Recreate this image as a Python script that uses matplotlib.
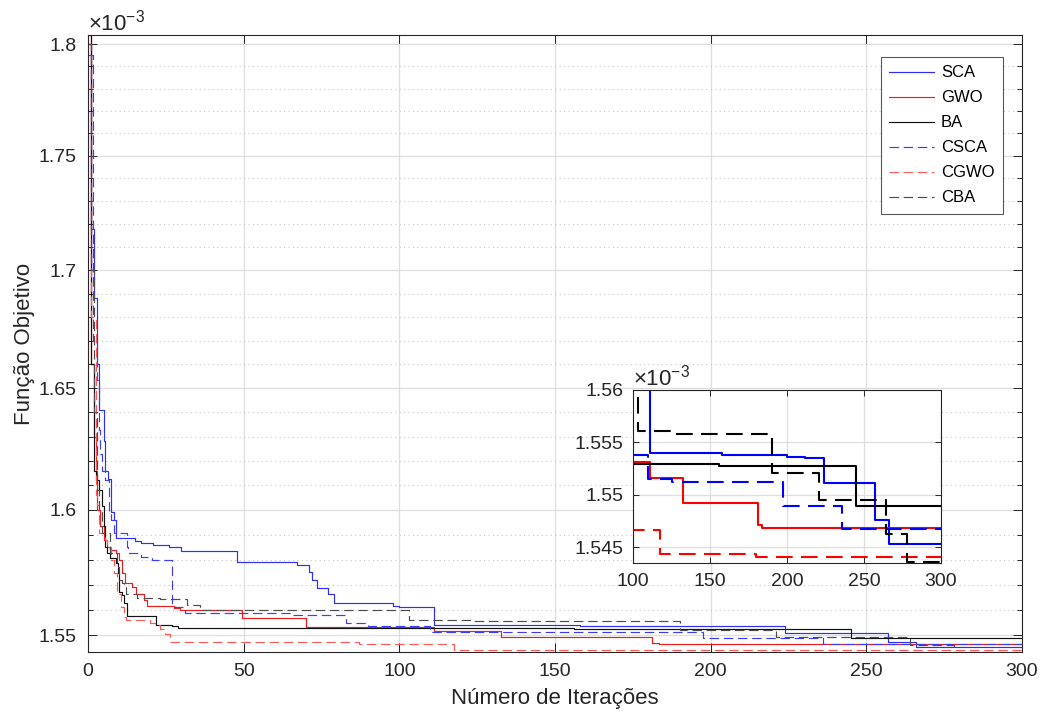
import numpy as np
import matplotlib
matplotlib.use("Agg")
import matplotlib.pyplot as plt
from matplotlib.ticker import FixedLocator, FuncFormatter, NullFormatter

plt.rcParams['font.family'] = ['Liberation Sans', 'DejaVu Sans']
plt.rcParams['mathtext.fontset'] = 'custom'
plt.rcParams['mathtext.rm'] = 'Liberation Sans'
plt.rcParams['mathtext.it'] = 'Liberation Sans:italic'

TXT = '#262626'

# Objective value (x 1e-3) per iteration, stored as step breakpoints:
# each value holds from its iteration until the next breakpoint.
sca_it = [0, 1, 2, 3, 3.5, 5, 5.3, 6.4, 7.3, 8.3, 8.9, 15, 17, 21, 26, 30, 48, 67, 71, 72,
          73.5, 77, 79, 98, 100, 111, 158, 200, 212, 224, 257, 266, 300]
sca_val = [1.800, 1.718, 1.688, 1.660, 1.641, 1.628, 1.616, 1.6125, 1.599, 1.596, 1.5887,
           1.5873, 1.5867, 1.5859, 1.5852, 1.5835, 1.5792, 1.5779, 1.5752, 1.5719, 1.5687,
           1.5665, 1.5629, 1.5616, 1.5610, 1.5540, 1.5538, 1.5536, 1.5535, 1.5511, 1.5476,
           1.5453, 1.5453]

gwo_it = [0, 1, 2, 2.5, 3, 4, 5, 6, 7, 9, 10, 11, 12, 14, 15.5, 18, 19, 27.5, 29.5, 49.5,
          70, 111, 132.5, 181, 183.5, 300]
gwo_val = [1.8043, 1.660, 1.630, 1.616, 1.600, 1.5935, 1.588, 1.5852, 1.5839, 1.5826, 1.580,
           1.5746, 1.5706, 1.5691, 1.5665, 1.5640, 1.5616, 1.5607, 1.5600, 1.5568, 1.5531,
           1.5516, 1.5492, 1.5471, 1.5468, 1.5468]

ba_it = [0, 1, 2, 2.5, 3.5, 4.5, 5, 5.5, 6, 7, 9, 9.5, 10, 11, 11.5, 12.5, 22, 27, 29, 156,
         245, 300]
ba_val = [1.8043, 1.660, 1.616, 1.612, 1.608, 1.6015, 1.5935, 1.5852, 1.5826, 1.5806, 1.5786,
          1.5746, 1.5673, 1.5660, 1.5628, 1.5578, 1.5541, 1.5537, 1.5529, 1.5527, 1.5489,
          1.5489]

csca_it = [0, 1.5, 2.9, 3.4, 3.9, 4.4, 5.5, 6.7, 7.3, 8.3, 12.5, 13, 17, 20.5, 27, 31, 66,
           83, 90, 110, 125, 197.5, 236, 300]
csca_val = [1.795, 1.670, 1.6535, 1.6327, 1.623, 1.616, 1.612, 1.5994, 1.596, 1.5905, 1.585,
            1.5826, 1.5812, 1.5799, 1.5613, 1.5588, 1.5581, 1.5548, 1.5538, 1.5515, 1.5512,
            1.5489, 1.5467, 1.5467]

cgwo_it = [0, 1, 2.5, 3, 3.5, 5.5, 6.2, 7.3, 8.3, 9.4, 10.5, 11.6, 12.2, 20, 21.5, 23,
           24.7, 26.3, 87, 117.5, 180, 300]
cgwo_val = [1.800, 1.680, 1.606, 1.602, 1.5905, 1.588, 1.585, 1.580, 1.5746, 1.5665, 1.5612,
            1.5573, 1.5561, 1.5548, 1.5540, 1.5525, 1.5506, 1.5476, 1.5466, 1.5444, 1.5441,
            1.5441]

cba_it = [0, 1, 2, 3, 3.5, 4.5, 7, 9.4, 10, 11, 11.6, 12.2, 15.6, 23, 31.7, 36, 103, 124,
          190, 221, 264, 278, 300]
cba_val = [1.800, 1.700, 1.640, 1.608, 1.600, 1.5905, 1.5826, 1.577, 1.5719, 1.5706, 1.569,
           1.5665, 1.5649, 1.5643, 1.5621, 1.5601, 1.5561, 1.5558, 1.5521, 1.5495, 1.5463,
           1.5436, 1.5436]

names = ['SCA', 'GWO', 'BA', 'CSCA', 'CGWO', 'CBA']
series = [(sca_it, sca_val), (gwo_it, gwo_val), (ba_it, ba_val),
          (csca_it, csca_val), (cgwo_it, cgwo_val), (cba_it, cba_val)]
# thin lines of the full view render a little lighter than the zoomed view
main_colors = ['#2e2eff', '#f01c1c', '#111111', '#3c3cff', '#ff5a5a', '#4d4d4d']
zoom_colors = ['#0000ff', '#ff0000', '#000000', '#0000ff', '#ff0000', '#000000']
dashed = [False, False, False, True, True, True]

main_ylim = (1.5435, 1.8043)
main_yticks = [1.55, 1.60, 1.65, 1.70, 1.75, 1.80]
inset_yticks = [1.545, 1.55, 1.555, 1.56]

fig = plt.figure(figsize=(10.4, 7.15), dpi=100)
ax = fig.add_axes([88 / 1040, 1 - 652 / 715, (1022 - 88) / 1040, (652 - 35) / 715])


def draw(a, lw, colors):
    for (it, val), name, c, d in zip(series, names, colors, dashed):
        line, = a.step(it, val, where='post', color=c, lw=lw, label=name)
        if d:
            line.set_dashes((8, 4))


def style(a, tick_len, minor_len):
    a.set_yscale('log')
    for s in a.spines.values():
        s.set_color(TXT)
        s.set_linewidth(0.8)
    a.tick_params(which='both', direction='in', top=True, right=True, colors=TXT,
                  labelcolor=TXT, width=0.7)
    a.tick_params(which='major', length=tick_len)
    a.tick_params(which='minor', length=minor_len)
    a.yaxis.set_major_formatter(FuncFormatter(lambda v, p: '%g' % round(v, 4)))
    a.yaxis.set_minor_formatter(NullFormatter())
    a.set_axisbelow(True)
    a.grid(True, which='major', color='#dedede', lw=0.9)


draw(ax, 0.85, main_colors)
style(ax, 6.5, 3.5)
ax.set_xlim(0, 300)
ax.set_ylim(*main_ylim)
ax.yaxis.set_major_locator(FixedLocator(main_yticks))
ax.yaxis.set_minor_locator(FixedLocator(np.arange(1.55, 1.805, 0.01)))
ax.set_xticks(np.arange(0, 301, 50))
ax.grid(True, which='minor', axis='y', color='#c8c8c8', lw=0.8, ls=(0, (1, 3)))
ax.tick_params(labelsize=14, pad=8)
ax.set_xlabel('Número de Iterações', fontsize=16, color=TXT, labelpad=6)
ax.set_ylabel('Função Objetivo', fontsize=16, color=TXT, labelpad=3)
ax.text(0.0, 1.0, r'$\times10^{-3}$', transform=ax.transAxes, ha='left', va='bottom',
        fontsize=16, color=TXT)

leg = ax.legend(loc='upper right', bbox_to_anchor=(1003 / 1040, 1 - 57 / 715),
                bbox_transform=fig.transFigure, borderaxespad=0, fontsize=12,
                frameon=True, fancybox=False, framealpha=1, edgecolor='#5a5a5a',
                handlelength=2.7, handletextpad=0.4, labelspacing=0.6, borderpad=0.5)
leg.get_frame().set_linewidth(0.8)
for t in leg.get_texts():
    t.set_color('#000000')

# zoomed view of iterations 100-300
axi = fig.add_axes([633 / 1040, 1 - 563 / 715, (941 - 633) / 1040, (563 - 390) / 715])
axi.set_facecolor('white')
draw(axi, 1.5, zoom_colors)
style(axi, 4.5, 0)
axi.set_xlim(100, 300)
axi.set_ylim(1.5435, 1.56)
axi.yaxis.set_major_locator(FixedLocator(inset_yticks))
axi.yaxis.set_minor_locator(FixedLocator([]))
axi.set_xticks(np.arange(100, 301, 50))
axi.tick_params(labelsize=14, pad=7)
axi.text(0.0, 1.0, r'$\times10^{-3}$', transform=axi.transAxes, ha='left', va='bottom',
         fontsize=16, color=TXT)

fig.savefig('out.png', dpi=100, facecolor='white')
